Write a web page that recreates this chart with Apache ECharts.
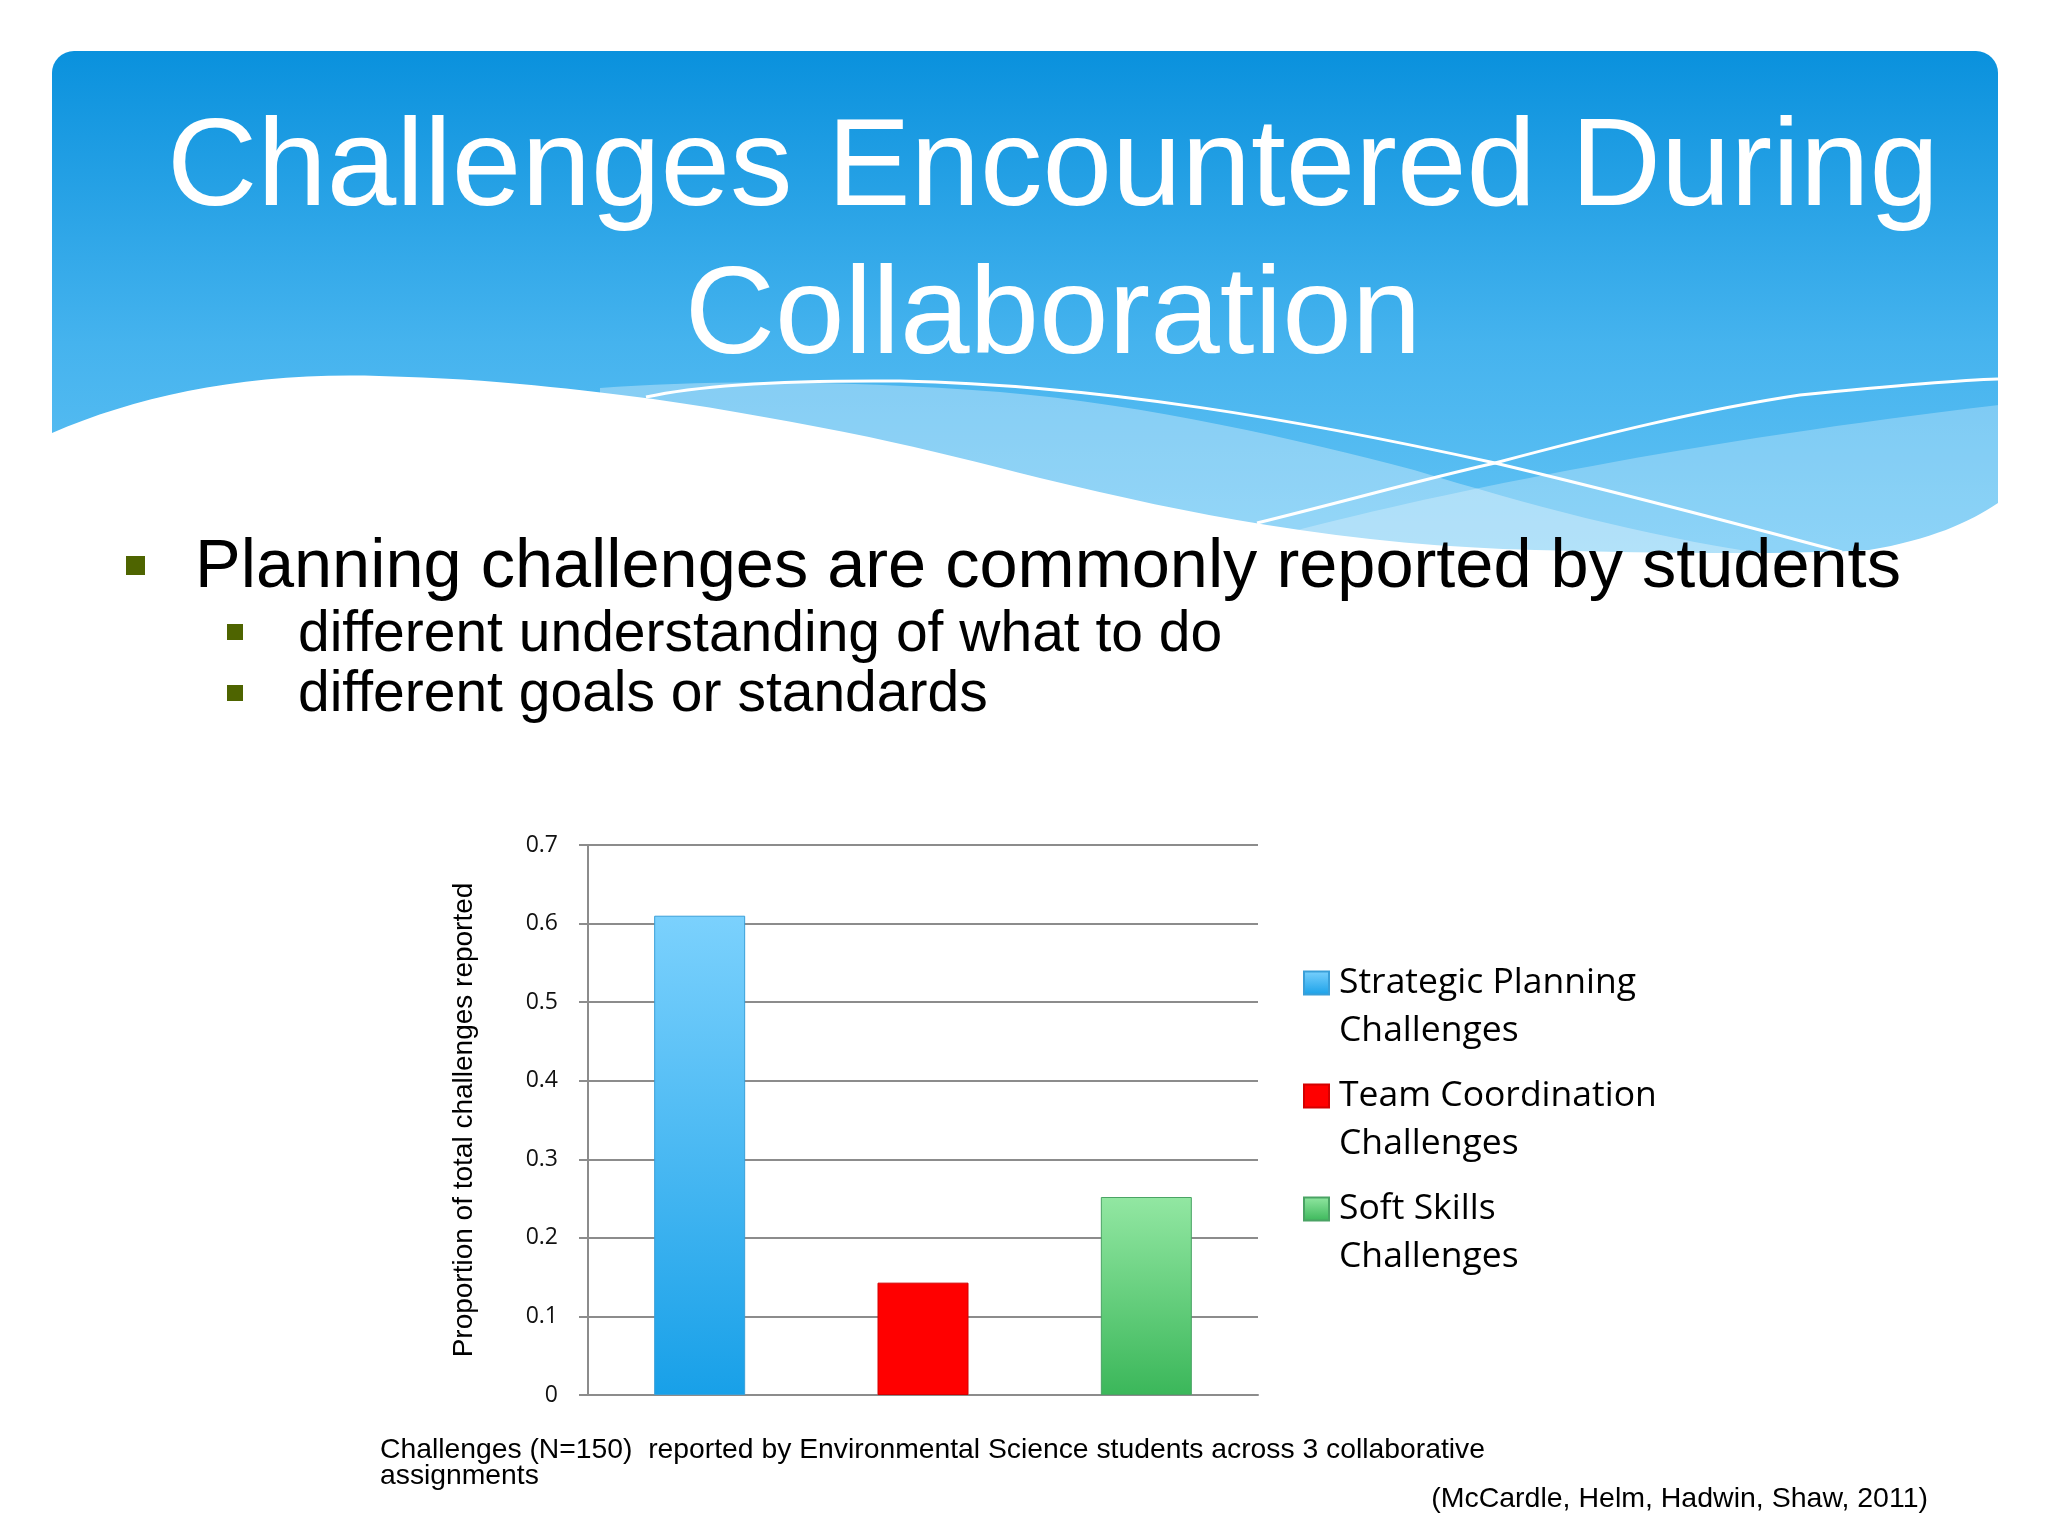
<!DOCTYPE html>
<html><head><meta charset="utf-8">
<script src="https://cdn.jsdelivr.net/npm/echarts@6/dist/echarts.min.js"></script>
<style>html,body{margin:0;padding:0;background:#fff}#c{width:2048px;height:1536px}</style>
</head><body><div id="c"></div>
<script>
// ---- data ----
const titleLines = ['Challenges Encountered During', 'Collaboration'];
const bulletMain = 'Planning challenges are commonly reported by students';
const bulletSubs = ['different understanding of what to do', 'different goals or standards'];
const categories = ['Strategic Planning Challenges', 'Team Coordination Challenges', 'Soft Skills Challenges'];
const legendLines = [['Strategic Planning', 'Challenges'], ['Team Coordination', 'Challenges'], ['Soft Skills', 'Challenges']];
const values = [0.61, 0.143, 0.252];
const yMin = 0, yMax = 0.7, yInterval = 0.1;
const axisTitle = 'Proportion of total challenges reported';
const captionLines = ['Challenges (N=150)  reported by Environmental Science students across 3 collaborative', 'assignments'];
const citation = '(McCardle, Helm, Hadwin, Shaw, 2011)';

// ---- styles ----
const G = echarts.graphic;
const fills = [
  new G.LinearGradient(0, 0, 0, 1, [{offset: 0, color: '#7bd1fd'}, {offset: 1, color: '#18a0e8'}]),
  '#ff0000',
  new G.LinearGradient(0, 0, 0, 1, [{offset: 0, color: '#92e7a2'}, {offset: 1, color: '#3bb75a'}])
];
const borders = ['#3a9fd8', '#d40000', '#4aa364'];
const gridColor = '#8c8c8c';
const arial = '"Liberation Sans", Arial, sans-serif';

// decorative header shapes (svg path data)
const decoPaths = {
  bandA: 'M600,388 C700,380 850,380 1000,392 C1150,405 1300,440 1414,470 C1530,505 1640,535 1760,553 L1760,600 L600,600 Z',
  bandB: 'M1290,532 C1450,490 1700,440 1999,405 L1999,600 L1290,600 Z',
  whiteWave: 'M40,440 L52,433 C140,395 250,372 379,376 C500,379 580,390 653,399 C730,410 800,423 869,437 C930,450 980,463 1040,478 C1120,497 1190,513 1267,525 C1360,540 1450,548 1535,550 C1650,553 1780,555 1869,550 C1930,540 1970,522 1998,503 L2010,495 L2010,610 L40,610 Z',
  lineA: 'M646,397 C700,385 780,380 900,381 C1100,385 1300,420 1495,463 C1650,500 1760,530 1842,552',
  lineB: 'M1257,523 C1350,500 1420,480 1495,463 C1600,435 1700,410 1800,395 C1900,385 1960,380 1998,379'
};
Object.keys(decoPaths).forEach(function (k) {
  G.registerShape('deco_' + k, G.extendPath(decoPaths[k], {}));
});

const chart = echarts.init(document.getElementById('c'), null, {renderer: 'canvas'});

const graphics = [
  {type: 'rect', z: 0, shape: {x: 52, y: 51, width: 1946, height: 530, r: [22, 22, 0, 0]},
   style: {fill: new G.LinearGradient(0, 0, 0, 1, [{offset: 0, color: '#0a91dd'}, {offset: 0.55, color: '#45b3ee'}, {offset: 1, color: '#66c5f5'}])}},
  {type: 'deco_bandA', z: 1, style: {fill: 'rgba(255,255,255,0.33)'}},
  {type: 'deco_bandB', z: 1, style: {fill: 'rgba(255,255,255,0.28)'}},
  {type: 'deco_whiteWave', z: 2, style: {fill: '#ffffff'}},
  {type: 'deco_lineA', z: 3, style: {fill: null, stroke: '#ffffff', lineWidth: 3}},
  {type: 'deco_lineB', z: 3, style: {fill: null, stroke: '#ffffff', lineWidth: 3}},
  {type: 'text', z: 4, style: {text: titleLines.join('\n'), x: 1053, y: 97, font: '125px ' + arial, lineHeight: 148, fill: '#ffffff', align: 'center', verticalAlign: 'top'}},
  {type: 'rect', z: 4, shape: {x: 126, y: 556, width: 19, height: 19}, style: {fill: '#4e6400'}},
  {type: 'text', z: 4, style: {text: bulletMain, x: 195, y: 568, font: '68.5px ' + arial, fill: '#000000', align: 'left', verticalAlign: 'middle'}},
  {type: 'rect', z: 4, shape: {x: 227, y: 624, width: 16, height: 16}, style: {fill: '#4e6400'}},
  {type: 'text', z: 4, style: {text: bulletSubs[0], x: 298, y: 635, font: '57px ' + arial, fill: '#000000', align: 'left', verticalAlign: 'middle'}},
  {type: 'rect', z: 4, shape: {x: 227, y: 685, width: 16, height: 16}, style: {fill: '#4e6400'}},
  {type: 'text', z: 4, style: {text: bulletSubs[1], x: 298, y: 695, font: '57px ' + arial, fill: '#000000', align: 'left', verticalAlign: 'middle'}},
  {type: 'text', z: 4, style: {text: captionLines.join('\n'), x: 380, y: 1437, font: '28.3px ' + arial, lineHeight: 26, fill: '#000000', align: 'left', verticalAlign: 'top'}},
  {type: 'text', z: 4, style: {text: citation, x: 1928, y: 1499, font: '28.5px ' + arial, fill: '#000000', align: 'right', verticalAlign: 'middle'}}
];

const option = {
  backgroundColor: '#ffffff',
  animation: false,
  graphic: graphics,
  grid: {left: 588, right: 790, top: 845, bottom: 141, containLabel: false},
  legend: {
    orient: 'vertical', left: 1303, top: 911, padding: 0, itemGap: -31,
    itemWidth: 25, itemHeight: 23, icon: 'rect',
    data: categories,
    formatter: function (name) { return '\n' + legendLines[categories.indexOf(name)].join('\n'); },
    textStyle: {fontFamily: '"Open Sans", sans-serif', fontSize: 35.5, lineHeight: 48, color: '#000000', padding: [0, 0, 0, 5]}
  },
  xAxis: {
    type: 'category', data: categories,
    axisLine: {show: true, lineStyle: {color: gridColor, width: 2}},
    axisTick: {show: false}, axisLabel: {show: false}, splitLine: {show: false}
  },
  yAxis: {
    type: 'value', min: yMin, max: yMax, interval: yInterval,
    name: axisTitle, nameLocation: 'middle', nameGap: 110,
    nameTextStyle: {fontFamily: arial, fontSize: 28, color: '#000000'},
    axisLine: {show: true, lineStyle: {color: gridColor, width: 2}},
    axisTick: {show: true, length: 9, lineStyle: {color: gridColor, width: 2}},
    axisLabel: {margin: 30, fontFamily: '"Open Sans", sans-serif', fontSize: 23, color: '#111111'},
    splitLine: {show: true, lineStyle: {color: gridColor, width: 2}}
  },
  series: categories.map(function (name, i) {
    return {
      name: name, type: 'bar', barWidth: 91, barGap: '-100%',
      data: categories.map(function (c, j) { return j === i ? values[i] : '-'; }),
      itemStyle: {color: fills[i], borderColor: borders[i], borderWidth: 1}
    };
  })
};
chart.setOption(option);
</script>
</body></html>
